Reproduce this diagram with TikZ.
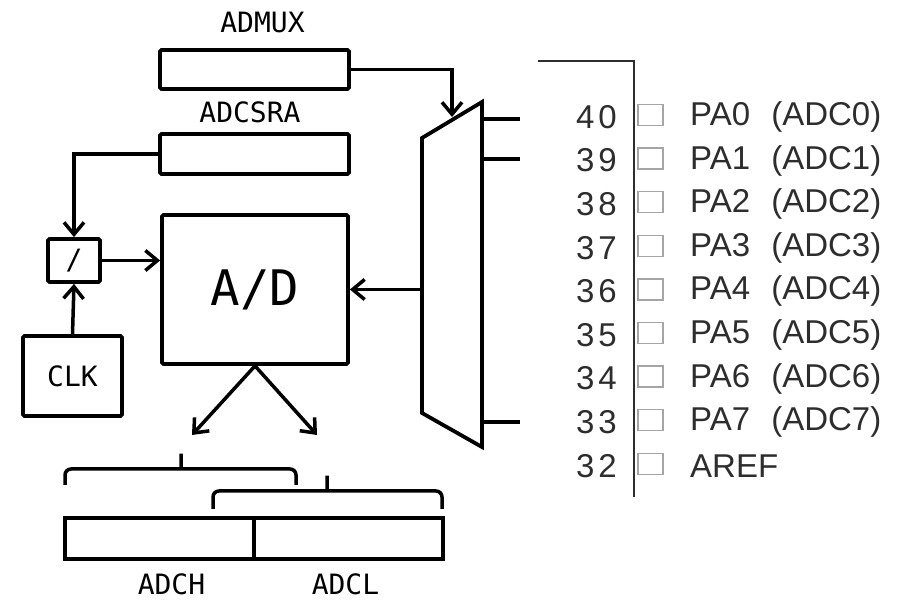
\documentclass[tikz,border=0pt]{standalone}
\usepackage{fontspec}
\usetikzlibrary{arrows.meta}
\newfontfamily\regfont{DejaVu Sans Mono}
\newfontfamily\pinfont[LetterSpace=12]{Liberation Sans}
\newfontfamily\pinlblfont{Liberation Sans}
\definecolor{pingray}{RGB}{45,45,45}
\definecolor{padgray}{RGB}{165,165,165}

\tikzset{
  blk/.style={draw, line width=3.8pt, rounded corners=1.5pt, inner sep=0pt},
  wire/.style={line width=3.5pt},
  arr/.style={wire, -{Straight Barb[length=12pt,width=20pt]}},
  brace/.style={line width=3.5pt, rounded corners=6pt},
  reglbl/.style={font=\regfont\fontsize{28}{30}\selectfont, inner sep=0pt},
  pinnum/.style={font=\pinfont\fontsize{33}{35}\selectfont, text=pingray, anchor=east, inner sep=0pt},
  pinlbl/.style={font=\pinlblfont\fontsize{33}{35}\selectfont, text=pingray, anchor=west, inner sep=0pt},
  pinpad/.style={draw=padgray, line width=1.5pt, minimum width=25pt, minimum height=21pt, inner sep=0pt}
}

\begin{document}
\begin{tikzpicture}[x=1pt, y=-1pt]
\useasboundingbox (0,0) rectangle (906,601);

%registers
\node[blk, minimum width=189pt, minimum height=39pt] (admux) at (254.5,69.5) {};
\node[reglbl] (admuxlbl) at (262.5,22) {ADMUX};
\node[blk, minimum width=189pt, minimum height=40pt] (adcsra) at (254.5,154) {};
\node[reglbl] (adcsralbl) at (250,112) {ADCSRA};

%converter, prescaler, clock
\node[blk, minimum width=186pt, minimum height=149pt, font=\regfont\fontsize{49}{52}\selectfont] (ad) at (255,289.5) {A/D};
\node[blk, minimum width=52pt, minimum height=43pt, font=\regfont\fontsize{28}{30}\selectfont] (div) at (74,260.5) {/};
\node[blk, minimum width=99pt, minimum height=80pt, font=\regfont\fontsize{28}{30}\selectfont] (clk) at (72.5,376) {CLK};

%multiplexer
\draw[wire, line width=3.8pt, line join=miter] (422,138) -- (482,102) -- (482,447) -- (422,413) -- cycle;
\coordinate (muxsel) at (452,117);
\coordinate (muxout) at (422,289.5);
\foreach \i/\y in {0/119, 1/159, 7/422}{
  \coordinate (muxin\i) at (482,\y);
  \coordinate (pinend\i) at (520,\y);
  \draw[wire] (muxin\i) -- (pinend\i);
}

%connections
\draw[arr] (admux.east) -| (muxsel);
\draw[arr] (adcsra.west) -| (div.north);
\draw[arr] (clk.north) -- (div.south);
\draw[arr] (div.east) -- (div.east -| ad.west);
\draw[arr] (muxout) -- (ad.east);
\coordinate (hitip) at (192,435);
\coordinate (lotip) at (317,435);
\draw[arr] (ad.south) -- (hitip);
\draw[arr] (ad.south) -- (lotip);

%result registers
\node[blk, rounded corners=0pt, minimum width=189pt, minimum height=41pt] (adch) at (159.5,538.5) {};
\node[blk, rounded corners=0pt, minimum width=189pt, minimum height=41pt] (adcl) at (348.5,538.5) {};
\node[reglbl] (adchlbl) at (171.5,584) {ADCH};
\node[reglbl] (adcllbl) at (345.5,584) {ADCL};

%braces
\draw[brace] (65,485) |- (175,469) .. controls (181,469) .. (181,450) .. controls (181,469) .. (187,469) -| (296,485);
\draw[brace] (213,509) |- (321,491) .. controls (327,491) .. (327,472) .. controls (327,491) .. (333,491) -| (442,509);

%pinout
\draw[line width=2.5pt, color=pingray] (538,61) -- (634,61) -- (634,497);
\foreach \i in {0,...,8}{
  \pgfmathsetmacro\y{117+43.6*\i}
  \pgfmathtruncatemacro\n{40-\i}
  \node[pinnum] (num\i) at (617,\y) {\n};
  \node[pinpad] (pad\i) at (650.5,\y-2) {};
  \ifnum\i<8
    \node[pinlbl] (lbl\i) at (690,\y) {PA\i\hspace{12pt} (ADC\i)};
  \else
    \node[pinlbl] (lbl\i) at (690,\y) {AREF};
  \fi
}

\end{tikzpicture}
\end{document}
